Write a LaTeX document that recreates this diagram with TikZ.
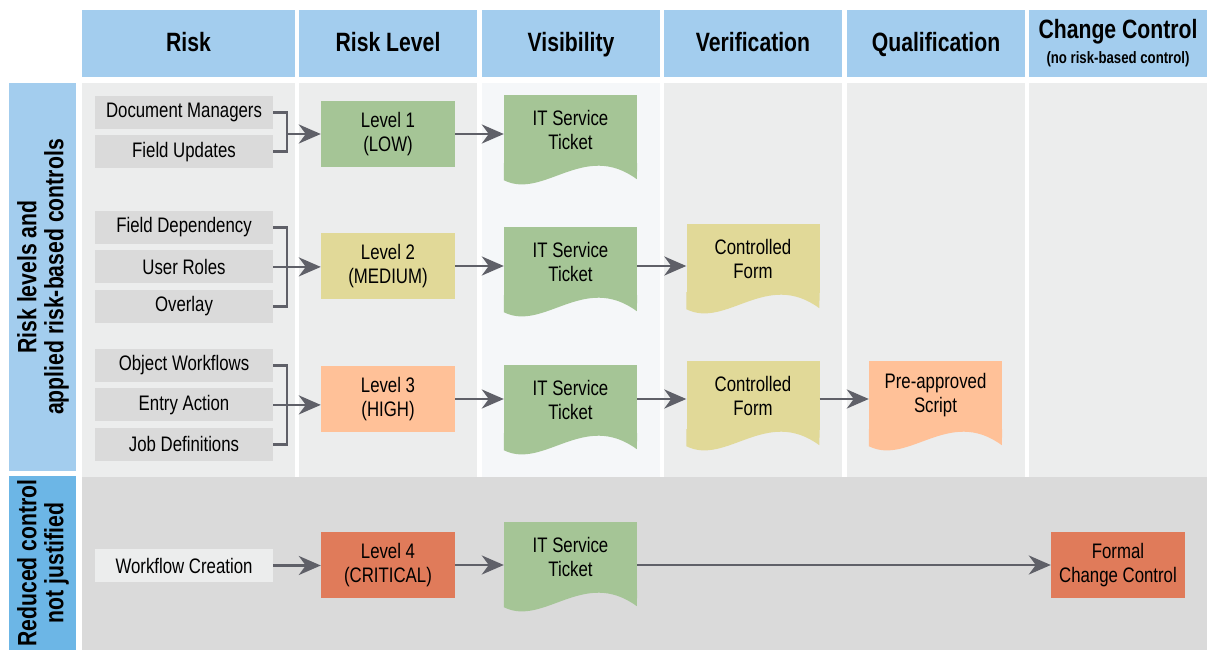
\documentclass[tikz,border=0pt]{standalone}
\usepackage{fontspec}
\setmainfont[FakeStretch=0.8]{Liberation Sans}
\usetikzlibrary{positioning, arrows.meta}
\definecolor{headblue}{HTML}{A3CDEE}
\definecolor{sideblue}{HTML}{6CB6E6}
\definecolor{colgray}{HTML}{ECEDED}
\definecolor{colvis}{HTML}{F5F7F9}
\definecolor{lowgray}{HTML}{DADADA}
\definecolor{lowgreen}{HTML}{A5C596}
\definecolor{medyellow}{HTML}{E1D998}
\definecolor{highorange}{HTML}{FFC198}
\definecolor{critred}{HTML}{E07B5A}
\definecolor{arrowgray}{HTML}{5F6068}

\begin{document}
\begin{tikzpicture}[x=1pt, y=-1pt, node distance=6pt,
    head/.style={fill=headblue, minimum height=67, align=center, inner sep=0, text height=17, text depth=0, font=\fontsize{26.5}{28}\selectfont\bfseries},
    sidetext/.style={rotate=90, align=center, inner sep=0, font=\fontsize{26.5}{27}\selectfont\bfseries},
    risk/.style={fill=#1, minimum width=178, minimum height=33, inner sep=0, font=\fontsize{21}{24}\selectfont},
    risk/.default=lowgray,
    lvl/.style={fill=#1, minimum width=134, minimum height=66, align=center, inner sep=0, font=\fontsize{21}{24}\selectfont},
    docshape/.style={fill=#1, minimum width=133, minimum height=69, align=center, inner sep=0, font=\fontsize{21}{24}\selectfont,
      append after command={\pgfextra{\fill[#1] ([yshift=1pt]\tikzlastnode.south west) -- ++(0,17)
        .. controls +(40,20) and +(-53,-39) .. ++(133,-1) -- ([yshift=1pt]\tikzlastnode.south east) -- cycle;}}},
    link/.style={draw=arrowgray, line width=2.8, -{Stealth[length=22pt, width=19pt, inset=7pt]}},
    brace/.style={draw=arrowgray, line width=2.8}]
    \useasboundingbox (0,0) rectangle (1211,650);

    % column backgrounds
    \foreach \xa/\xb in {82/295, 299/477, 664/842, 847/1025, 1029/1207}
      \fill[colgray] (\xa,83) rectangle (\xb,477);
    \fill[colvis] (482,83) rectangle (660,477);
    \fill[lowgray] (82,477) rectangle (1207,650);
    \fill[headblue] (9,83) rectangle (76,471);
    \fill[sideblue] (9,476) rectangle (76,650);

    % header row
    \node[head, minimum width=213] (hrisk) at (188.5,43.5) {Risk};
    \node[head, minimum width=178] (hlevel) at (388,43.5) {Risk Level};
    \node[head, minimum width=178] (hvis) at (571,43.5) {Visibility};
    \node[head, minimum width=178] (hver) at (753,43.5) {Verification};
    \node[head, minimum width=178] (hqual) at (936,43.5) {Qualification};
    \node[head, minimum width=178, text height=, text depth=] (hcc) at (1118,43.5) {Change Control\\[-3pt]{\fontsize{16.5}{18}\selectfont (no risk-based control)}};

    \node[sidetext] (sidea) at (43,277) {Risk levels and\\applied risk-based controls};
    \node[sidetext] (sideb) at (43,563) {Reduced control\\not justified};

    % risks
    \node[risk] (dm) at (184,112.5) {Document Managers};
    \node[risk, below=of dm] (fu) {Field Updates};
    \node[risk] (fd) at (184,227.5) {Field Dependency};
    \node[risk, below=of fd] (ur) {User Roles};
    \node[risk, below=of ur] (ov) {Overlay};
    \node[risk] (ow) at (184,365.5) {Object Workflows};
    \node[risk, below=of ow] (ea) {Entry Action};
    \node[risk, below=of ea] (jd) {Job Definitions};
    \node[risk=colgray] (wc) at (184,565.5) {Workflow Creation};

    % levels
    \node[lvl=lowgreen] (l1) at (388,134) {Level 1\\(LOW)};
    \node[lvl=medyellow] (l2) at (388,266) {Level 2\\(MEDIUM)};
    \node[lvl=highorange] (l3) at (388,399) {Level 3\\(HIGH)};
    \node[lvl=critred] (l4) at (388,565) {Level 4\\(CRITICAL)};
    \node[lvl=critred] (fcc) at (1118,565) {Formal\\Change Control};

    % controls
    \node[docshape=lowgreen] (t1) at (570.5,129.5) {IT Service\\Ticket};
    \node[docshape=lowgreen] (t2) at (570.5,261.5) {IT Service\\Ticket};
    \node[docshape=lowgreen] (t3) at (570.5,399.5) {IT Service\\Ticket};
    \node[docshape=lowgreen] (t4) at (570.5,556.5) {IT Service\\Ticket};
    \node[docshape=medyellow] (f2) at (753,258.5) {Controlled\\Form};
    \node[docshape=medyellow] (f3) at (753,395.5) {Controlled\\Form};
    \node[docshape=highorange] (s3) at (935.5,395.5) {Pre-approved\\Script};

    % brackets
    \coordinate (j1) at (287,134);
    \draw[brace] (dm.east) -| (j1) |- (fu.east);
    \draw[link] (j1) -- (l1.west);
    \coordinate (j2) at (287,266.5);
    \draw[brace] (fd.east) -| (j2) |- (ov.east);
    \draw[link] (ur.east) -- (ur.east -| l2.west);
    \coordinate (j3) at (287,404.5);
    \draw[brace] (ow.east) -| (j3) |- (jd.east);
    \draw[link] (ea.east) -- (ea.east -| l3.west);
    \draw[link] (wc.east) -- (wc.east -| l4.west);

    % flows
    \draw[link] (l1.east) -- (l1.east -| t1.west);
    \draw[link] (l2.east) -- (l2.east -| t2.west);
    \draw[link] (l3.east) -- (l3.east -| t3.west);
    \draw[link] (l4.east) -- (l4.east -| t4.west);
    \draw[link] (t2.east |- l2.east) -- (l2.east -| f2.west);
    \draw[link] (t3.east |- l3.east) -- (l3.east -| f3.west);
    \draw[link] (f3.east |- l3.east) -- (l3.east -| s3.west);
    \draw[link] (t4.east |- fcc.west) -- (fcc.west);
\end{tikzpicture}
\end{document}
